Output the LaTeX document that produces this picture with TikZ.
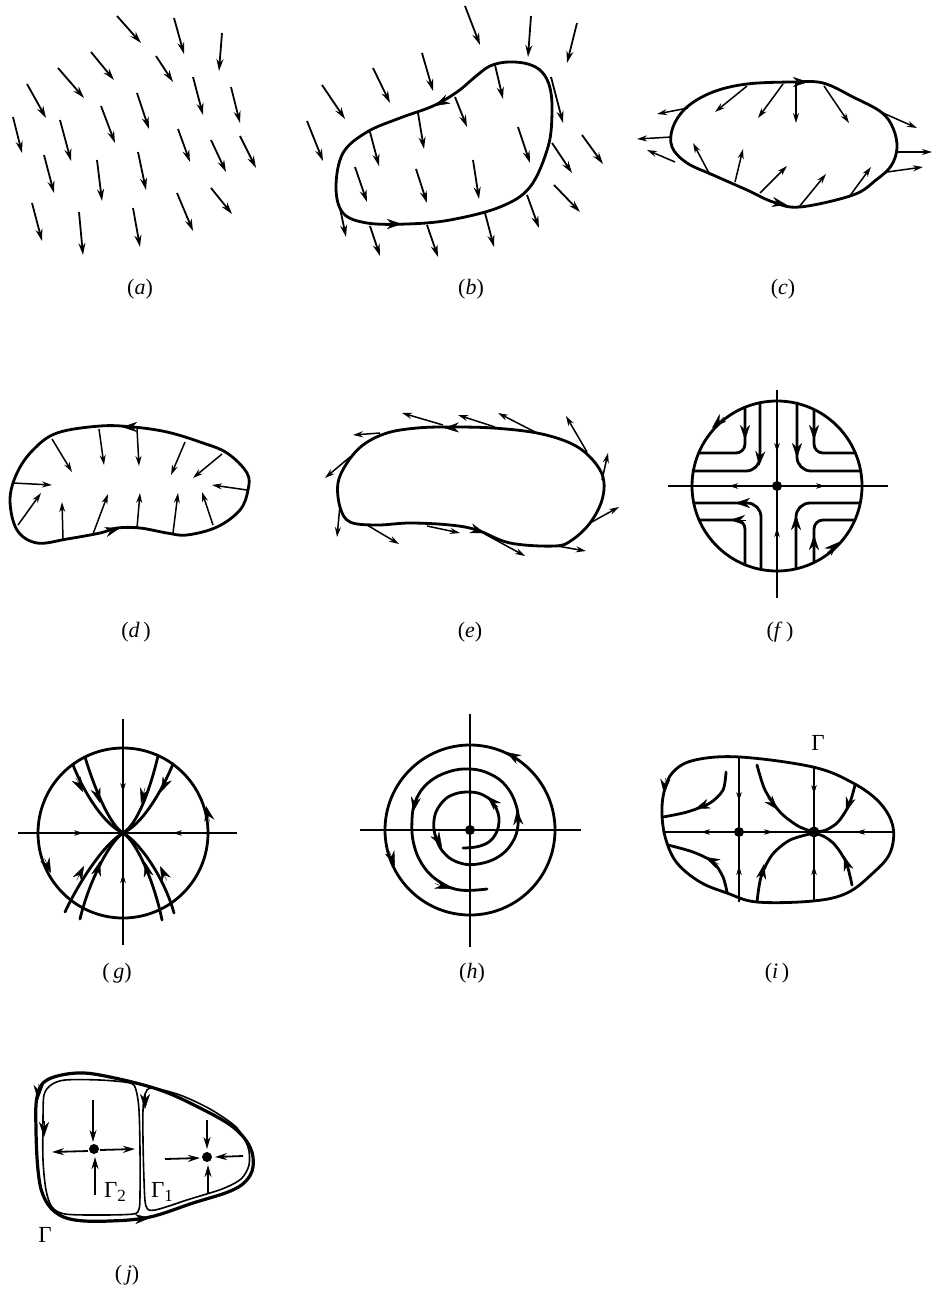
\documentclass[tikz,border=0pt]{standalone}
\usepackage{fontspec}
\setmainfont{Liberation Serif}
\usetikzlibrary{arrows.meta}
\newcommand\hd[3][chead]{\draw[#1] (#2) ++(#3+180:16pt) -- (#2);}
\newcommand\sub[1]{\raisebox{-0.35ex}{\fontsize{17}{17}\selectfont #1}}
\begin{document}
\begin{tikzpicture}[x=1pt,y=-1pt,
  vec/.style={line width=1.8pt,-{Stealth[length=12pt,width=7pt]}},
  svec/.style={line width=1.5pt,-{Stealth[length=10pt,width=6pt]}},
  curve/.style={line width=2.8pt,line join=round,line cap=round},
  tcurve/.style={line width=1.6pt,line join=round},
  axis/.style={line width=1.3pt},
  chead/.style={line width=0.4pt,-{Stealth[length=15pt,width=10pt]}},
  ahead/.style={line width=0.4pt,-{Stealth[length=9pt,width=5.5pt]}},
  dot/.style={circle,fill,inner sep=0pt,minimum size=10pt},
  lab/.style={font=\fontsize{22}{26}\selectfont,inner sep=0pt},
  glab/.style={font=\fontsize{23}{26}\selectfont,inner sep=0pt}]
\useasboundingbox (0,0) rectangle (934,1289);
\fill[white] (0,0) rectangle (934,1289);

% ---------------- (a)
\foreach \xa/\ya/\xb/\yb in {117/16/141/43, 174/18/184/54, 222/33/219/71, 91/52/114/80, 156/56/173/82, 58/68/84/98, 27/84/46/118, 193/77/203/115, 231/87/240/123, 137/93/149/129, 101/106/115/143, 13/117/22/153, 60/120/71/161, 178/129/190/162, 211/140/226/172, 240/136/256/168, 44/155/54/193, 97/160/102/201, 138/152/146/190, 177/193/193/231, 211/188/232/214, 32/203/42/241, 79/212/83/255, 133/208/140/247}
  \draw[vec] (\xa,\ya) -- (\xb,\yb);
\node[lab] (la) at (140,289) {(\textit{a})};

% ---------------- (b)
\draw[curve] plot[smooth cycle, tension=0.6] coordinates {(490,66) (508,62) (528,64) (542,72) (550,88) (552,113) (548,147) (530,187) (500,207) (450,220) (407,224) (367,223) (343,213) (336,187) (343,153) (367,132) (400,118) (433,106) (457,92) (475,77)};
\hd{402,224}{0}
\hd{435,106}{208}
\foreach \xa/\ya/\xb/\yb in {465/6/480/45, 531/16/528/57, 577/23/567/63, 422/53/433/91, 373/68/390/103, 322/85/345/119, 307/121/323/161, 495/65/503/99, 455/97/467/127, 551/77/563/123, 418/113/424/149, 370/132/379/166, 518/127/530/163, 582/135/603/164, 552/143/572/173, 355/167/367/202, 416/169/427/203, 473/160/479/199, 554/185/580/212, 340/208/346/237, 370/226/380/256, 427/225/438/257, 485/213/494/247, 527/195/539/228}
  \draw[vec] (\xa,\ya) -- (\xb,\yb);
\node[lab] (lb) at (471,289) {(\textit{b})};

% ---------------- (c)
\draw[curve] plot[smooth cycle, tension=0.6] coordinates {(747,84) (793,82) (823,83) (853,97) (881,112) (893,128) (897,148) (891,166) (876,180) (853,195) (800,207) (773,202) (747,190) (713,175) (687,163) (672,147) (673,127) (687,107) (713,92)};
\hd{808,82}{0}
\hd{787,205}{-12}
\foreach \xa/\ya/\xb/\yb in {688/108/657/114, 672/137/637/139, 675/162/647/150, 747/86/715/112, 783/84/758/118, 796/83/796/123, 824/86/849/123, 883/113/917/128, 897/152/932/152, 887/172/923/167, 710/175/693/143, 735/182/743/149, 760/193/787/166, 799/207/826/174, 849/197/871/167}
  \draw[svec] (\xa,\ya) -- (\xb,\yb);
\node[lab] (lc) at (783,289) {(\textit{c})};

% ---------------- (d)
\draw[curve] plot[smooth cycle, tension=0.6] coordinates {(100,426) (133,427) (167,432) (200,442) (227,453) (247,473) (248,490) (240,510) (217,527) (187,535) (167,533) (140,528) (117,528) (100,533) (67,539) (37,543) (17,530) (10,500) (17,473) (33,450) (57,433)};
\hd{122,427}{180}
\hd{120,528}{16}
\foreach \xa/\ya/\xb/\yb in {52/439/72/472, 99/429/104/465, 137/429/139/466, 185/442/171/475, 222/454/193/478, 247/490/212/485, 213/525/202/492, 173/533/178/493, 137/528/140/493, 93/534/108/494, 63/539/62/502, 18/525/41/493, 13/483/52/485}
  \draw[svec] (\xa,\ya) -- (\xb,\yb);
\node[lab] (ld) at (136,632) {(\textit{d}\,)};

% ---------------- (e)
\draw[curve] plot[smooth cycle, tension=0.6] coordinates {(450,427) (493,428) (537,433) (570,443) (590,457) (603,477) (602,500) (590,523) (572,540) (555,546) (510,543) (477,530) (450,525) (410,523) (377,525) (350,522) (340,507) (338,483) (347,463) (363,445) (387,433) (417,428)};
\hd{444,428}{182}
\hd{485,533}{-18}
\foreach \xa/\ya/\xb/\yb in {380/433/353/435, 443/425/402/413, 495/427/458/415, 537/433/498/413, 587/452/566/416, 602/480/608/453, 590/523/619/507, 557/546/586/551, 483/533/525/556, 427/526/460/533, 367/525/399/544, 340/505/337/537, 350/457/325/478}
  \draw[svec] (\xa,\ya) -- (\xb,\yb);
\node[lab] (le) at (470,632) {(\textit{e})};

% ---------------- (f)
\draw[curve] (777,486) circle[radius=85];
\draw[axis] (668,486) -- (888,486);
\draw[axis] (777,390) -- (777,598);
\node[dot] (f0) at (777,486) {};
\begin{scope}[curve]
\draw[rounded corners=9pt] (745,407) -- (745,453) -- (699,453);
\draw[rounded corners=14pt] (760,403) -- (760,471) -- (693,471);
\draw[rounded corners=9pt] (814,410) -- (814,453) -- (855,453);
\draw[rounded corners=14pt] (797,403) -- (797,471) -- (861,471);
\draw[rounded corners=14pt] (761,569) -- (761,503) -- (694,503);
\draw[rounded corners=9pt] (745,565) -- (745,520) -- (699,520);
\draw[rounded corners=14pt] (796,569) -- (796,503) -- (860,503);
\draw[rounded corners=9pt] (814,562) -- (814,520) -- (855,520);
\end{scope}
\hd{745,440}{-90}
\hd{759,466}{-95}
\hd{814,440}{-90}
\hd{797,458}{-90}
\hd{735,503}{180}
\hd{730,520}{180}
\hd{796,515}{90}
\hd{814,535}{90}
\hd{712,428}{223}
\hd{839,542}{42}
\hd[ahead]{777,452}{-90}
\hd[ahead]{777,528}{90}
\hd[ahead]{729,486}{180}
\hd[ahead]{825,486}{0}
\node[lab] (lf) at (780,632) {(\textit{f}\,)};

% ---------------- (g)
\draw[curve] (123,833) circle[radius=85];
\draw[axis] (18,833) -- (237,833);
\draw[axis] (123,719) -- (123,945);
\begin{scope}[curve]
\draw (73,765) .. controls (85,795) and (105,825) .. (123,833);
\draw (85,757) .. controls (95,790) and (110,825) .. (123,833);
\draw (158,756) .. controls (150,790) and (137,825) .. (123,833);
\draw (173,764) .. controls (160,795) and (141,825) .. (123,833);
\draw (65,912) .. controls (80,880) and (105,843) .. (123,833);
\draw (80,919) .. controls (88,885) and (108,843) .. (123,833);
\draw (162,920) .. controls (155,885) and (138,843) .. (123,833);
\draw (174,913) .. controls (165,880) and (141,843) .. (123,833);
\end{scope}
\hd{83,792}{-63}
\hd{100,803}{-73}
\hd{141,803}{-105}
\hd{161,792}{-115}
\hd{84,866}{63}
\hd{100,861}{75}
\hd{145,862}{104}
\hd{160,866}{115}
\hd{206,806}{103}
\hd{51,873}{-66}
\hd[ahead]{123,792}{-90}
\hd[ahead]{123,874}{90}
\hd[ahead]{83,833}{0}
\hd[ahead]{173,833}{180}
\node[lab] (lg) at (117,973) {(\,\textit{g})};

% ---------------- (h)
\draw[curve] (470,830) circle[radius=85];
\draw[axis] (360,830) -- (581,830);
\draw[axis] (470,714) -- (470,947);
\node[dot] (h0) at (470,830) {};
\draw[curve] plot[smooth, tension=0.7] coordinates {(463,848) (480,846) (493,838) (499,822) (495,806) (485,796) (470,792) (452,795) (440,805) (434,820) (436,838) (445,854) (460,863) (478,864) (498,857) (512,843) (518,825) (516,805) (506,786) (490,774) (470,769) (448,772) (428,783) (416,800) (412,820) (414,845) (424,867) (440,882) (460,890) (487,889)};
\hd{487,796}{135}
\hd{442,847}{-61}
\hd{517,810}{95}
\hd{413,812}{-101}
\hd{450,889}{-20}
\hd{506,752}{150}
\hd{395,866}{-69}
\node[lab] (lh) at (472,973) {(\textit{h})};

% ---------------- (i)
\draw[curve] plot[smooth cycle, tension=0.6] coordinates {(740,757) (813,767) (853,783) (880,803) (893,827) (890,853) (873,873) (847,893) (813,901) (757,902) (727,893) (700,882) (677,863) (666,840) (662,815) (664,792) (673,772) (695,760)};
\draw[axis] (663,832) -- (893,832);
\draw[axis] (739,757) -- (739,902);
\draw[axis] (814,767) -- (814,901);
\node[dot] (i1) at (739,832) {};
\node[dot,minimum size=11pt] (i2) at (814,832) {};
\begin{scope}[curve]
\draw plot[smooth] coordinates {(726,772) (723,790) (710,803) (687,812) (663,817)};
\draw plot[smooth] coordinates {(727,892) (723,877) (713,862) (693,852) (668,845)};
\draw plot[smooth] coordinates {(757,765) (765,790) (780,812) (798,826) (814,832)};
\draw plot[smooth] coordinates {(855,785) (849,805) (838,822) (826,830) (815,832)};
\draw plot[smooth] coordinates {(757,902) (761,877) (772,855) (790,840) (814,833)};
\draw plot[smooth] coordinates {(852,885) (846,862) (835,845) (825,837) (815,833)};
\end{scope}
\hd{664,794}{-95}
\hd{695,809}{201}
\hd{705,857}{153}
\hd{778,810}{-49}
\hd{846,812}{-108}
\hd{764,864}{79}
\hd{844,856}{108}
\hd[ahead]{739,801}{-90}
\hd[ahead]{739,866}{90}
\hd[ahead]{701,832}{180}
\hd[ahead]{773,832}{0}
\hd[ahead]{856,832}{180}
\hd[ahead]{814,794}{-90}
\hd[ahead]{814,866}{90}
\node[glab] (gi) at (818,743) {Γ};
\node[lab] (li) at (777,973) {(\textit{i}\,)};

% ---------------- (j)
\draw[line width=3.2pt,line join=round] plot[smooth cycle, tension=0.6] coordinates {(77,1073) (110,1077) (160,1090) (200,1108) (233,1127) (250,1147) (253,1167) (245,1182) (228,1192) (193,1203) (150,1217) (110,1221) (75,1220) (55,1212) (43,1195) (38,1170) (36,1130) (37,1097) (47,1080)};
\draw[tcurve] plot[smooth cycle, tension=0.5] coordinates {(44,1095) (51,1085) (65,1080) (100,1080) (130,1083) (136,1090) (139,1110) (140,1150) (140,1195) (139,1209) (133,1214) (100,1215) (65,1214) (52,1207) (46,1190) (43,1160) (43,1120)};
\draw[tcurve] plot[smooth cycle, tension=0.5] coordinates {(145,1094) (152,1088) (180,1095) (210,1109) (236,1127) (248,1147) (249,1165) (241,1179) (222,1189) (190,1199) (155,1210) (146,1206) (144,1180) (143,1140) (143,1110)};
\node[dot] (j1) at (94,1149) {};
\node[dot] (j2) at (207,1157) {};
\foreach \xa/\ya/\xb/\yb in {93/1100/93/1142, 95/1195/95/1157, 88/1151/52/1152, 100/1150/135/1149, 207/1120/207/1149, 208/1193/208/1165, 165/1159/200/1158, 243/1156/215/1157}
  \draw[vec] (\xa,\ya) -- (\xb,\yb);
\hd{38,1100}{-92}
\hd{44,1137}{-90}
\hd{145,1109}{-90}
\hd{150,1218}{4}
\node[glab] (g2) at (115,1192) {Γ\sub{2}};
\node[glab] (g1) at (162,1192) {Γ\sub{1}};
\node[glab] (gj) at (45,1235) {Γ};
\node[lab] (lj) at (127,1275) {(\,\textit{j})};
\end{tikzpicture}
\end{document}
